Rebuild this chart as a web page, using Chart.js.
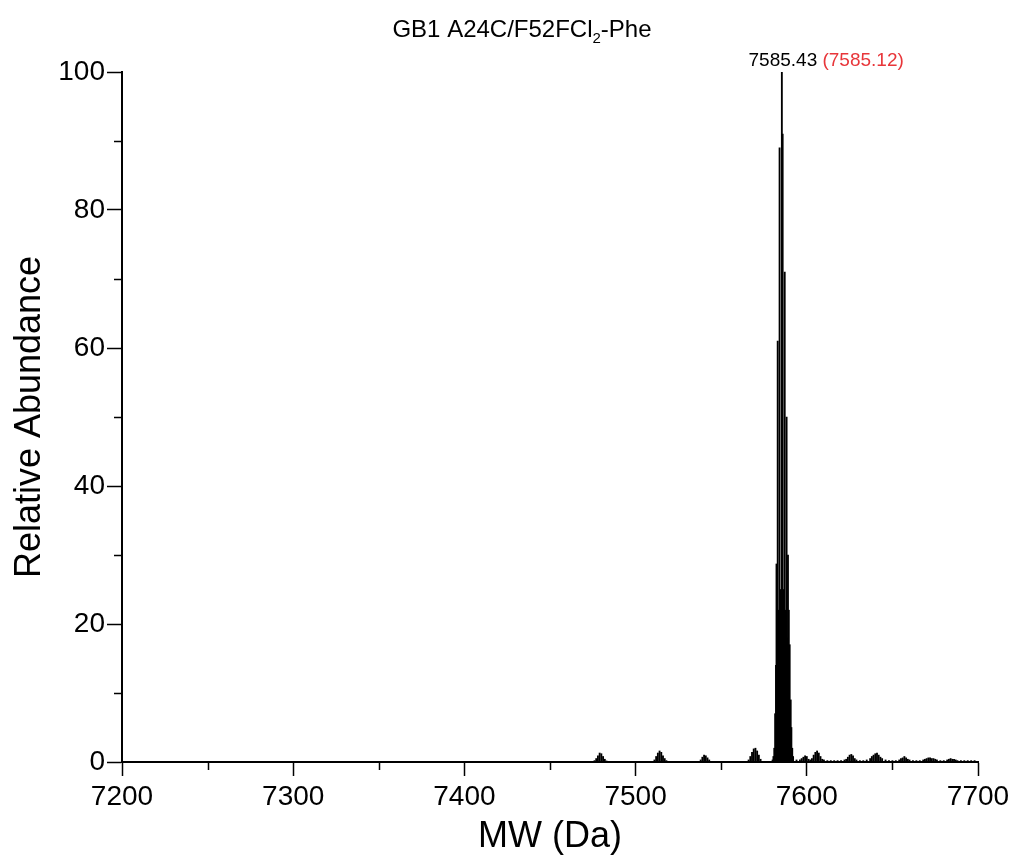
<!DOCTYPE html>
<html lang="en">
<head>
  <meta charset="UTF-8" />
  <title>GB1 A24C/F52FCl2-Phe deconvoluted spectrum</title>
  <script src="https://cdn.jsdelivr.net/npm/chart.js"></script>
  <style>
    body {
      margin: 0;
      background: #ffffff;
    }

    .wrap {
      width: 1016px;
      height: 861px;
    }
  </style>
</head>
<body>

  <div class="wrap">
    <canvas id="msChart" width="1016" height="861"></canvas>
  </div>

  <script>
    // Deconvoluted mass (Da) and relative abundance
    const massDa = [
      7476, 7477, 7478, 7479, 7480, 7481, 7482, 7483,
      7511, 7512, 7513, 7514, 7515, 7516, 7517, 7518,
      7538, 7539, 7540, 7541, 7542, 7543,
      7566, 7567, 7568, 7569, 7570, 7571, 7572, 7573,
      7580.0, 7580.5, 7581.0, 7581.5, 7582.0, 7582.3, 7582.6, 7583.0, 7583.5,
      7584.1, 7584.7, 7585.43, 7585.9, 7586.5, 7587.1, 7587.6, 7588.2, 7588.6,
      7589.0, 7589.5, 7590.0, 7590.6, 7591.0, 7591.5, 7592.0,
      7594, 7596, 7597, 7598, 7599, 7600, 7601, 7602, 7603, 7604, 7605, 7606,
      7607, 7608, 7609, 7610, 7612, 7614, 7616, 7618, 7620, 7622,
      7623, 7624, 7625, 7626, 7627, 7628, 7629, 7631, 7633, 7635,
      7637, 7638, 7639, 7640, 7641, 7642, 7643, 7644, 7646, 7648, 7650, 7652,
      7654, 7655, 7656, 7657, 7658, 7659, 7660, 7662, 7664, 7666,
      7668, 7669, 7670, 7671, 7672, 7673, 7674, 7675, 7676, 7678, 7680,
      7682, 7683, 7684, 7685, 7686, 7687, 7688, 7690, 7692, 7694, 7696, 7698
    ];
    const abundance = [
      0.2, 0.5, 0.9, 1.3, 1.2, 0.8, 0.4, 0.15,
      0.3, 0.8, 1.3, 1.6, 1.4, 0.9, 0.5, 0.2,
      0.3, 0.7, 1.0, 0.9, 0.6, 0.3,
      0.3, 0.8, 1.4, 1.9, 2.0, 1.6, 1.0, 0.4,
      0.3, 0.8, 2.0, 7.0, 14.0, 28.7, 18.0, 61.0, 22.0,
      89.0, 25.0, 100.0, 91.0, 25.0, 71.0, 22.0, 50.0, 18.0,
      30.0, 22.0, 17.0, 9.0, 5.0, 2.0, 0.8,
      0.3, 0.3, 0.5, 0.7, 0.9, 0.8, 0.4, 0.3, 0.5, 1.0, 1.4, 1.6,
      1.3, 0.8, 0.4, 0.3, 0.2, 0.2, 0.2, 0.2, 0.2, 0.3,
      0.4, 0.7, 1.0, 1.1, 0.9, 0.5, 0.3, 0.2, 0.2, 0.3,
      0.5, 0.8, 1.0, 1.2, 1.3, 1.0, 0.7, 0.5, 0.3, 0.2, 0.2, 0.2,
      0.3, 0.5, 0.6, 0.8, 0.6, 0.4, 0.3, 0.2, 0.2, 0.2,
      0.3, 0.4, 0.5, 0.6, 0.6, 0.5, 0.5, 0.4, 0.3, 0.2, 0.2,
      0.3, 0.4, 0.5, 0.4, 0.4, 0.3, 0.2, 0.2, 0.2, 0.2, 0.2, 0.2
    ];

    // Axis ticks
    const xTicks = [7200, 7300, 7400, 7500, 7600, 7700];
    const xMinorTicks = [7250, 7350, 7450, 7550, 7650];
    const yTicks = [0, 20, 40, 60, 80, 100];
    const yMinorTicks = [10, 30, 50, 70, 90];

    // Labelled peak: observed and (expected) mass
    const peakMass = 7585.43;
    const peakLabel = '7585.43';
    const expectedLabel = '(7585.12)';

    const FONT = "'Liberation Sans', Arial, sans-serif";

    // Title with a subscript, plus the peak annotation and minor ticks
    const extrasPlugin = {
      id: 'extras',
      afterDraw(chart) {
        const ctx = chart.ctx;
        const xs = chart.scales.x;
        const ys = chart.scales.y;
        const area = chart.chartArea;

        ctx.save();
        ctx.strokeStyle = '#000';
        ctx.lineWidth = 1.5;
        ctx.beginPath();
        xMinorTicks.forEach(v => {
          const px = Math.round(xs.getPixelForValue(v)) + 0.5;
          ctx.moveTo(px, area.bottom);
          ctx.lineTo(px, area.bottom + 8);
        });
        yMinorTicks.forEach(v => {
          const py = Math.round(ys.getPixelForValue(v)) + 0.5;
          ctx.moveTo(area.left, py);
          ctx.lineTo(area.left - 8, py);
        });
        ctx.stroke();

        // title: GB1 A24C/F52FCl2-Phe (2 as subscript)
        const parts = [
          { t: 'GB1 A24C/F52FCl', size: 24, dy: 0 },
          { t: '2', size: 15, dy: 6 },
          { t: '-Phe', size: 24, dy: 0 }
        ];
        let total = 0;
        parts.forEach(p => {
          ctx.font = p.size + 'px ' + FONT;
          p.w = ctx.measureText(p.t).width;
          total += p.w;
        });
        let tx = 522 - total / 2;
        ctx.fillStyle = '#000';
        ctx.textBaseline = 'alphabetic';
        ctx.textAlign = 'left';
        parts.forEach(p => {
          ctx.font = p.size + 'px ' + FONT;
          ctx.fillText(p.t, tx, 37 + p.dy);
          tx += p.w;
        });

        // peak annotation
        ctx.font = '19px ' + FONT;
        const px = xs.getPixelForValue(peakMass);
        const w1 = ctx.measureText(peakLabel).width;
        const gap = ctx.measureText(' ').width;
        const lx = px - w1 / 2 + 1;
        ctx.fillStyle = '#000';
        ctx.fillText(peakLabel, lx, 66);
        ctx.fillStyle = '#e8363a';
        ctx.fillText(expectedLabel, lx + w1 + gap, 66);
        ctx.restore();
      }
    };

    const points = massDa.map((m, i) => ({ x: m, y: abundance[i] }));

    new Chart(document.getElementById('msChart'), {
      type: 'bar',
      data: {
        datasets: [{
          label: 'Relative Abundance',
          data: points,
          backgroundColor: '#000',
          borderWidth: 0,
          barThickness: 1.2
        }]
      },
      options: {
        responsive: false,
        animation: false,
        layout: {
          padding: { left: 0, right: 38, top: 72, bottom: 0 }
        },
        plugins: {
          legend: { display: false },
          tooltip: { enabled: false }
        },
        scales: {
          x: {
            type: 'linear',
            min: 7200,
            max: 7700,
            offset: false,
            afterBuildTicks: s => { s.ticks = xTicks.map(v => ({ value: v })); },
            afterFit: s => { s.height = 99; },
            grid: {
              drawOnChartArea: false,
              tickLength: 14,
              tickColor: '#000',
              tickWidth: 1.5,
              offset: false
            },
            border: { display: true, color: '#000', width: 2 },
            ticks: {
              color: '#000',
              padding: 4,
              maxRotation: 0,
              callback: v => String(v),
              font: { family: FONT, size: 28 }
            },
            title: {
              display: true,
              text: 'MW (Da)',
              color: '#000',
              padding: { top: 0, bottom: 2 },
              font: { family: FONT, size: 36 }
            }
          },
          y: {
            min: 0,
            max: 100,
            afterBuildTicks: s => { s.ticks = yTicks.map(v => ({ value: v })); },
            afterFit: s => { s.width = 122; },
            grid: {
              drawOnChartArea: false,
              tickLength: 15,
              tickColor: '#000',
              tickWidth: 1.5
            },
            border: { display: true, color: '#000', width: 2 },
            ticks: {
              color: '#000',
              padding: 2,
              callback: v => String(v),
              font: { family: FONT, size: 28 }
            },
            title: {
              display: true,
              text: 'Relative Abundance',
              color: '#000',
              padding: { top: 8, bottom: 0 },
              font: { family: FONT, size: 36 }
            }
          }
        }
      },
      plugins: [extrasPlugin]
    });
  </script>

</body>
</html>
